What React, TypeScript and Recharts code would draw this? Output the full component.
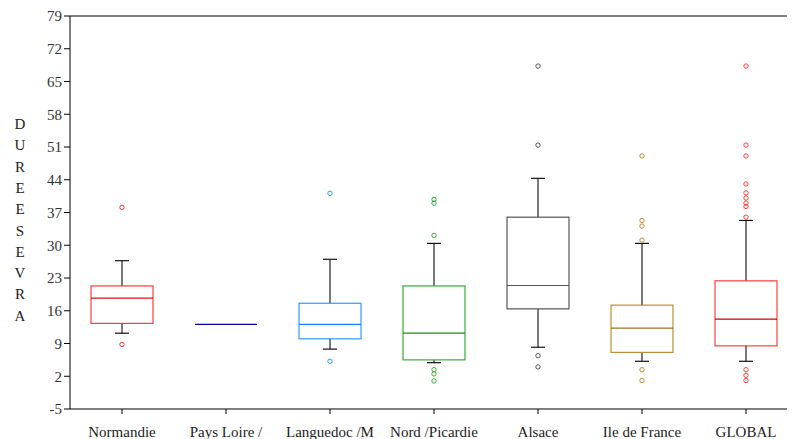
import React from 'react';
import { ComposedChart, Bar, XAxis, YAxis, ReferenceLine } from 'recharts';

const categories = ['Normandie', 'Pays  Loire /', 'Languedoc /M', 'Nord /Picardie', 'Alsace', 'Ile de France', 'GLOBAL'];
const whiskerLow = [11.2, 13.1, 7.8, 4.9, 8.2, 5.2, 5.2];
const q1 = [13.3, 13.1, 10.0, 5.5, 16.4, 7.1, 8.5];
const median = [18.7, 13.1, 13.1, 11.2, 21.4, 12.3, 14.2];
const q3 = [21.3, 13.1, 17.6, 21.3, 36.0, 17.2, 22.4];
const whiskerHigh = [26.7, 13.1, 27.0, 30.4, 44.3, 30.4, 35.3];
const outliers = [
  [38.1, 8.8],
  [],
  [41.1, 5.2],
  [39.8, 39.0, 32.1, 3.4, 2.5, 1.0],
  [68.3, 51.4, 6.4, 4.0],
  [49.1, 35.3, 34.1, 31.1, 3.4, 1.1],
  [68.3, 51.4, 49.1, 43.1, 41.2, 40.1, 39.0, 38.3, 36.0, 3.4, 2.2, 1.1],
];
const yTicks = [-5, 2, 9, 16, 23, 30, 37, 44, 51, 58, 65, 72, 79];
const yLetters = ['D', 'U', 'R', 'E', 'E', 'S', 'E', 'V', 'R', 'A'];

const BOX_COLORS = ['#ff3a3a', '#00009c', '#3399ff', '#3aaa3a', '#555555', '#b8903a', '#ff4040'];
const MEDIAN_COLORS = ['#e01010', '#00009c', '#1a80ff', '#1f8a1f', '#555555', '#a07020', '#d00000'];

const Y_MIN = -5;
const Y_MAX = 79;
const FONT = 'Liberation Serif, serif';

const data = categories.map((name, i) => ({
  name,
  range: [whiskerLow[i], whiskerHigh[i]],
  lo: whiskerLow[i], q1: q1[i], med: median[i], q3: q3[i], hi: whiskerHigh[i],
  out: outliers[i],
  idx: i,
}));

function BoxShape(props: any) {
  const { x, width, background, payload } = props;
  const top = background.y;
  const h = background.height;
  const yOf = (v: number) => top + ((Y_MAX - v) / (Y_MAX - Y_MIN)) * h;
  const c = BOX_COLORS[payload.idx];
  const mc = MEDIAN_COLORS[payload.idx];
  const cx = x + width / 2;
  const cap = 7;
  if (payload.q1 === payload.q3) {
    return <line x1={x} x2={x + width} y1={yOf(payload.med)} y2={yOf(payload.med)} stroke={c} strokeWidth={1.2} />;
  }
  return (
    <g>
      <line x1={cx} x2={cx} y1={yOf(payload.hi)} y2={yOf(payload.q3)} stroke="#222" strokeWidth={1.2} />
      <line x1={cx} x2={cx} y1={yOf(payload.q1)} y2={yOf(payload.lo)} stroke="#222" strokeWidth={1.2} />
      <line x1={cx - cap} x2={cx + cap} y1={yOf(payload.hi)} y2={yOf(payload.hi)} stroke="#111" strokeWidth={1.2} />
      <line x1={cx - cap} x2={cx + cap} y1={yOf(payload.lo)} y2={yOf(payload.lo)} stroke="#111" strokeWidth={1.2} />
      <rect x={x} y={yOf(payload.q3)} width={width} height={yOf(payload.q1) - yOf(payload.q3)} fill="none" stroke={c} strokeWidth={1.2} />
      <line x1={x} x2={x + width} y1={yOf(payload.med)} y2={yOf(payload.med)} stroke={mc} strokeWidth={1.2} />
      {payload.out.map((v: number, k: number) => (
        <circle key={k} cx={cx} cy={yOf(v)} r={2.2} fill="none" stroke={c} strokeWidth={1} />
      ))}
    </g>
  );
}

function YLabel() {
  const x = 20 - 8;
  const startY = 124 - 8;
  return (
    <g>
      {yLetters.map((l, i) => (
        <text key={i} x={x} y={startY + i * 21.3} textAnchor="middle" dominantBaseline="central" fontFamily={FONT} fontSize={15} fill="#222">
          {l}
        </text>
      ))}
    </g>
  );
}

export default function App() {
  return (
    <div style={{ width: 787, height: 431, overflow: 'hidden', fontFamily: FONT }}>
      <ComposedChart width={800} height={431} data={data} margin={{ top: 8, right: 10, bottom: 0, left: 0 }} style={{ fontFamily: FONT }}>
        <XAxis
          dataKey="name"
          axisLine={{ stroke: '#000' }}
          tickLine={{ stroke: '#000' }}
          tickSize={5}
          tickMargin={12}
          height={30}
          interval={0}
          tick={{ fontSize: 15, fill: '#222', fontFamily: FONT }}
        />
        <YAxis
          type="number"
          domain={[Y_MIN, Y_MAX]}
          ticks={yTicks}
          interval={0}
          width={62}
          axisLine={{ stroke: '#000' }}
          tickLine={{ stroke: '#000' }}
          tickSize={6}
          tick={{ fontSize: 15, fill: '#333', fontFamily: FONT }}
          label={<YLabel />}
        />
        <ReferenceLine y={Y_MAX} stroke="#000" />
        <Bar dataKey="range" barSize={62} shape={<BoxShape />} isAnimationActive={false} />
      </ComposedChart>
    </div>
  );
}
